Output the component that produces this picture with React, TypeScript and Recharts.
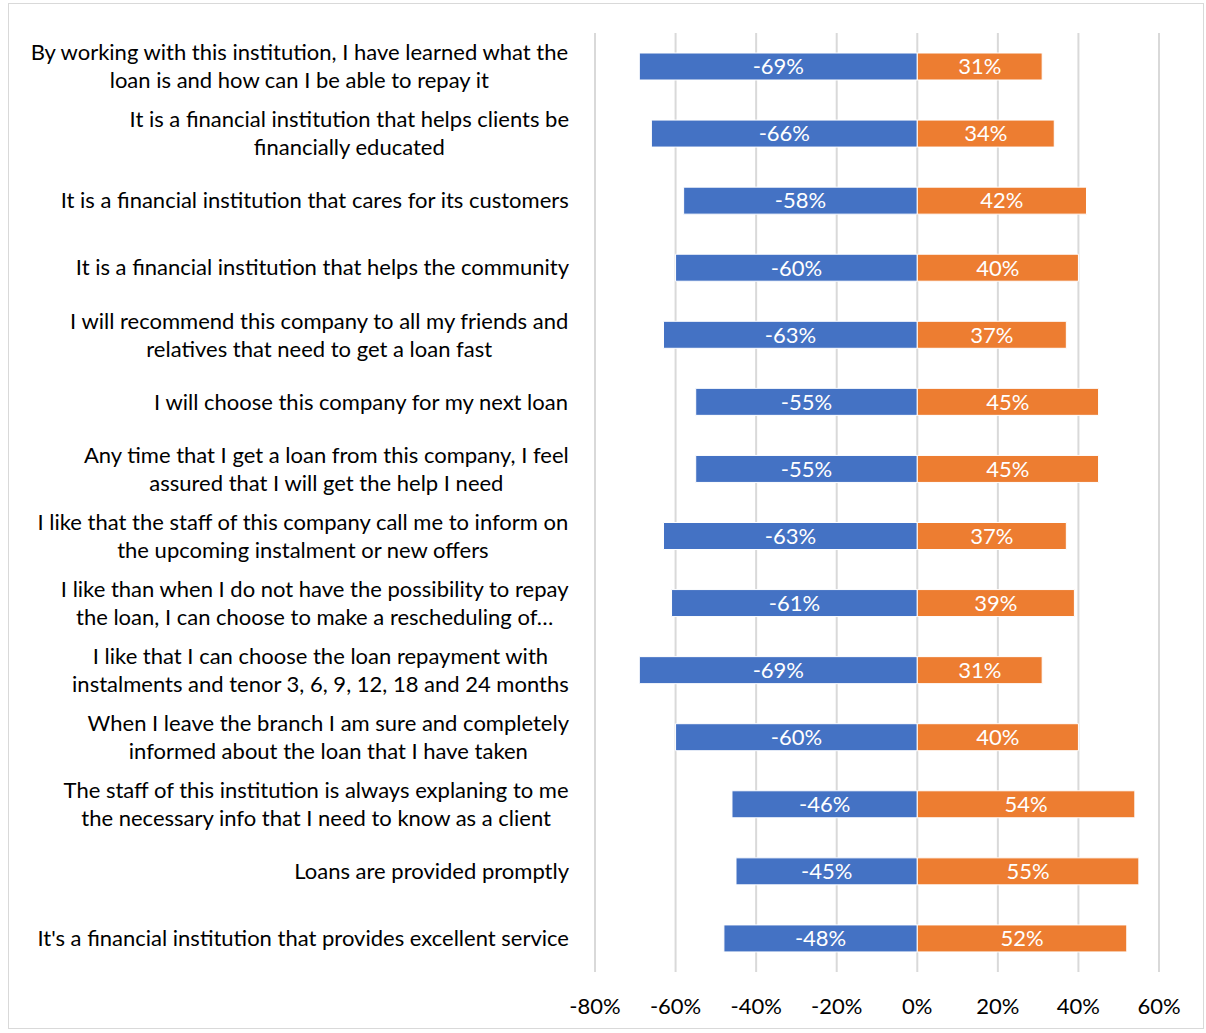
import { BarChart, Bar, XAxis, YAxis, CartesianGrid, LabelList } from "recharts";

// statements, top to bottom ("\n" marks where the original label wraps)
const statements = [
  "By working with this institution, I have learned what the\nloan is and how can I be able to repay it",
  "It is a financial institution that helps clients be\nfinancially educated",
  "It is a financial institution that cares for its customers",
  "It is a financial institution that helps the community",
  "I will recommend this company to all my friends and\nrelatives that need to get a loan fast",
  "I will choose this company for my next loan",
  "Any time that I get a loan from this company, I feel\nassured that I will get the help I need",
  "I like that the staff of this company call me to inform on\nthe upcoming instalment or new offers",
  "I like than when I do not have the possibility to repay\nthe loan, I can choose to make a rescheduling of…",
  "I like that I can choose the loan repayment with\ninstalments and tenor 3, 6, 9, 12, 18 and 24 months",
  "When I leave the branch I am sure and completely\ninformed about the loan that I have taken",
  "The staff of this institution is always explaning to me\nthe necessary info that I need to know as a client",
  "Loans are provided promptly",
  "It's a financial institution that provides excellent service",
];

const negative = [-0.69, -0.66, -0.58, -0.6, -0.63, -0.55, -0.55, -0.63, -0.61, -0.69, -0.6, -0.46, -0.45, -0.48];
const positive = [0.31, 0.34, 0.42, 0.4, 0.37, 0.45, 0.45, 0.37, 0.39, 0.31, 0.4, 0.54, 0.55, 0.52];

const xTicks = [-0.8, -0.6, -0.4, -0.2, 0, 0.2, 0.4, 0.6];

const data = statements.map((s, i) => ({
  statement: s,
  neg: negative[i],
  pos: positive[i],
}));

const pct = (v: any) => `${Math.round(Number(v) * 100)}%`;

const FONT = "Lato, 'Open Sans', sans-serif";
const LABEL_SIZE = 22;

let ctx: CanvasRenderingContext2D | null = null;
function textWidth(s: string) {
  if (!ctx) ctx = document.createElement("canvas").getContext("2d");
  if (!ctx) return s.length * 10;
  ctx.font = `${LABEL_SIZE}px Lato`;
  return ctx.measureText(s).width;
}

// lines centred within the block, block right-aligned to the axis (like Excel)
function StatementTick(props: any) {
  const { x, y, payload } = props;
  const lines: string[] = String(payload.value).split("\n");
  const lh = 28;
  const start = y - ((lines.length - 1) * lh) / 2;
  const w = Math.max(...lines.map(textWidth));
  const cx = x - w / 2;
  return (
    <text x={cx} textAnchor="middle" fill="#000" fontSize={LABEL_SIZE} fontFamily={FONT}>
      {lines.map((l, i) => (
        <tspan key={i} x={cx} y={start + i * lh} dy="0.35em">
          {l}
        </tspan>
      ))}
    </text>
  );
}

function PctTick(props: any) {
  const { x, y, payload } = props;
  return (
    <text x={x} y={y + 26} textAnchor="middle" fill="#000" fontSize={22} fontFamily={FONT} dy="0.35em">
      {pct(payload.value)}
    </text>
  );
}

export default function App() {
  return (
    <div
      style={{
        position: "absolute",
        left: 0,
        top: 0,
        width: 1206,
        height: 1033,
        background: "#fff",
      }}
    >
      <div
        style={{
          position: "absolute",
          left: 8,
          top: 3,
          width: 1196,
          height: 1026,
          border: "1px solid #d9d9d9",
          boxSizing: "border-box",
        }}
      />
      <div style={{ position: "absolute", left: 0, top: 0 }}>
        <BarChart
          width={1206}
          height={1033}
          data={data}
          layout="vertical"
          stackOffset="sign"
          barSize={27}
          margin={{ top: 33, right: 47, bottom: 11, left: 0 }}
        >
          <CartesianGrid horizontal={false} stroke="#d9d9d9" strokeWidth={2} />
          <XAxis
            type="number"
            domain={[-0.8, 0.6]}
            ticks={xTicks}
            axisLine={false}
            tickLine={false}
            height={50}
            tick={<PctTick />}
          />
          <YAxis
            type="category"
            dataKey="statement"
            width={595}
            axisLine={false}
            tickLine={false}
            tickSize={0}
            tickMargin={26}
            interval={0}
            tick={<StatementTick />}
          />
          <Bar dataKey="neg" stackId="a" fill="#4472C4" stroke="#fff" strokeWidth={1} isAnimationActive={false}>
            <LabelList dataKey="neg" position="center" formatter={pct} fill="#fff" fontSize={22} fontFamily={FONT} />
          </Bar>
          <Bar dataKey="pos" stackId="a" fill="#ED7D31" stroke="#fff" strokeWidth={1} isAnimationActive={false}>
            <LabelList dataKey="pos" position="center" formatter={pct} fill="#fff" fontSize={22} fontFamily={FONT} />
          </Bar>
        </BarChart>
      </div>
    </div>
  );
}
